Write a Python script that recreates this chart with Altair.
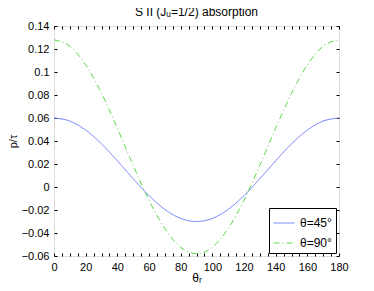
import altair as alt
import pandas as pd

theta_r = [0, 10, 20, 30, 40, 50, 60, 70, 80, 90, 100, 110, 120, 130, 140, 150, 160, 170, 180]
p45 = [0.060, 0.0573, 0.0495, 0.0375, 0.0228, 0.0072, -0.0075, -0.0195, -0.0273, -0.030,
       -0.0273, -0.0195, -0.0075, 0.0072, 0.0228, 0.0375, 0.0495, 0.0573, 0.060]
p90 = [0.128, 0.1224, 0.1062, 0.0815, 0.0511, 0.0189, -0.0115, -0.0362, -0.0524, -0.058,
       -0.0524, -0.0362, -0.0115, 0.0189, 0.0511, 0.0815, 0.1062, 0.1224, 0.128]
series_names = ["θ=45°", "θ=90°"]
x_label_ticks = [0, 20, 40, 60, 80, 100, 120, 140, 160, 180]
x_minor_ticks = list(range(0, 181, 5))
y_ticks = [-0.06, -0.04, -0.02, 0, 0.02, 0.04, 0.06, 0.08, 0.1, 0.12, 0.14]

rows = []
for i, t in enumerate(theta_r):
    rows.append({"theta": t, "p": p45[i], "series": series_names[0], "order": i})
    rows.append({"theta": t, "p": p90[i], "series": series_names[1], "order": i})
df = pd.DataFrame(rows)

W, H = 285, 230
FONT = "Liberation Sans"

def xs():
    return alt.Scale(domain=[0, 180], nice=False, zero=False)

def ys():
    return alt.Scale(domain=[-0.06, 0.14], nice=False, zero=False)

main = alt.Chart(df).mark_line(strokeWidth=1, interpolate="monotone").encode(
    x=alt.X("theta:Q", scale=xs(), axis=alt.Axis(
        values=x_label_ticks, format="d", ticks=False, domain=False, grid=False,
        labelFlush=False, labelOverlap=False,
        labelFontSize=11, labelFont=FONT, labelColor="black", labelPadding=5,
        title="θᵣ", titleFontSize=12, titleFont=FONT, titleFontWeight="normal",
        titleColor="black", titlePadding=0)),
    y=alt.Y("p:Q", scale=ys(), axis=alt.Axis(
        values=y_ticks, format="~g", ticks=False, domain=False, grid=False,
        labelFlush=False, labelOverlap=False,
        labelFontSize=11, labelFont=FONT, labelColor="black", labelPadding=5,
        title="p/τ", titleFontSize=11, titleFont=FONT, titleFontWeight="normal",
        titleColor="black", titlePadding=3)),
    color=alt.Color("series:N", scale=alt.Scale(domain=series_names, range=["#6a7cff", "#5cd44a"]),
                    legend=alt.Legend(title=None, orient="bottom-right", offset=3,
                                      fillColor="white", strokeColor="black", padding=4,
                                      labelFontSize=12, labelFont=FONT, labelColor="black",
                                      symbolType="stroke", symbolSize=441, symbolStrokeWidth=1,
                                      labelOffset=5, rowPadding=3)),
    strokeDash=alt.StrokeDash("series:N", scale=alt.Scale(domain=series_names, range=[[1, 0], [6, 3, 1, 3]]),
                              legend=alt.Legend(title=None, orient="bottom-right")),
    detail="series:N",
    order="order:Q",
)

ticks_b = alt.Chart(df).mark_line(opacity=0).encode(
    x=alt.X("theta:Q", scale=xs(), axis=alt.Axis(
        orient="top", offset=-H, values=x_minor_ticks, labels=False, domain=False, grid=False,
        tickSize=3, tickColor="black", title=None)),
    y=alt.Y("p:Q", scale=ys(), axis=alt.Axis(
        orient="right", offset=-W, values=y_ticks, labels=False, domain=False, grid=False,
        tickSize=3, tickColor="black", title=None)),
    detail="series:N",
)

ticks_c = alt.Chart(df).mark_line(opacity=0).encode(
    x=alt.X("theta:Q", scale=xs(), axis=alt.Axis(
        orient="bottom", offset=-H, values=x_minor_ticks, labels=False, domain=False, grid=False,
        tickSize=3, tickColor="black", title=None)),
    y=alt.Y("p:Q", scale=ys(), axis=alt.Axis(
        orient="left", offset=-W, values=y_ticks, labels=False, domain=False, grid=False,
        tickSize=3, tickColor="black", title=None)),
    detail="series:N",
)

chart = alt.layer(main, ticks_b, ticks_c).resolve_scale(x="independent", y="independent").properties(
    width=W, height=H,
    title=alt.TitleParams("S II (Jᵤ=1/2) absorption", fontSize=12, font=FONT,
                          fontWeight="normal", color="black", anchor="middle", offset=1),
    autosize=alt.AutoSizeParams(type="none"),
    padding={"left": 46, "top": 18, "right": 27, "bottom": 27},
).configure_view(stroke="black", strokeWidth=1).configure(background="white")

chart.save("out.html", embed_options={"renderer": "svg", "actions": False})
